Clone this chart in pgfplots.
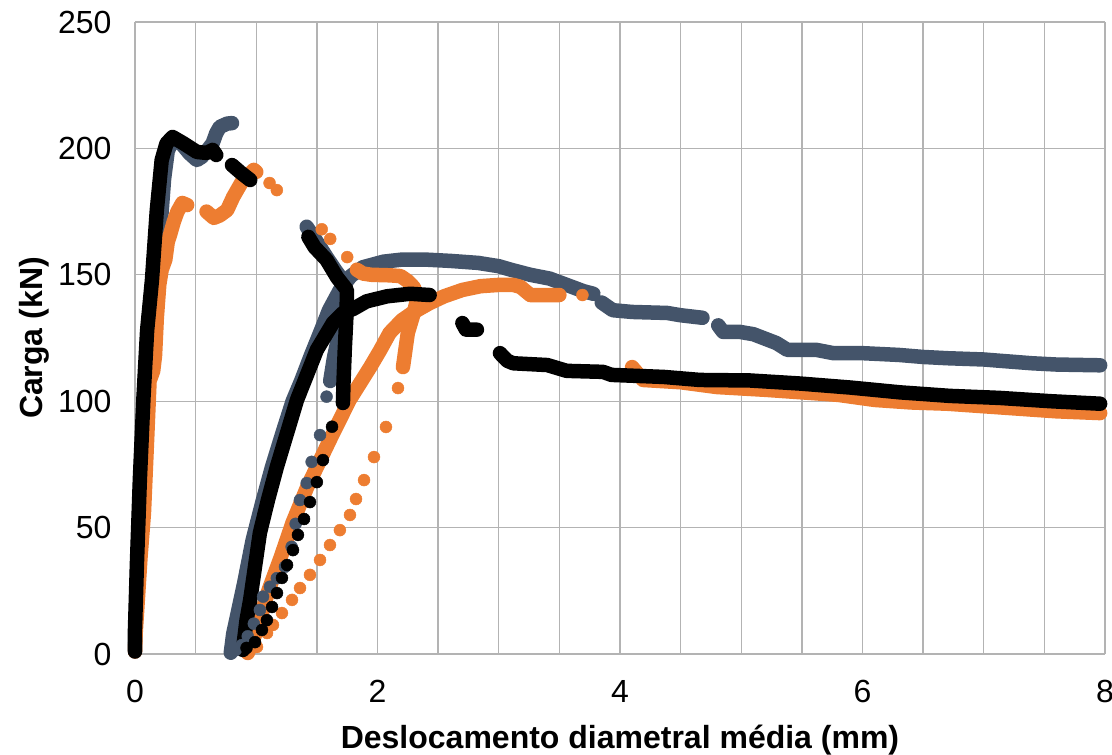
\documentclass[border=0pt]{standalone}
\usepackage{fontspec}
\setmainfont{Liberation Sans}
\usepackage{pgfplots}
\pgfplotsset{compat=1.18}
\definecolor{cblue}{HTML}{44546A}
\definecolor{corange}{HTML}{ED7D31}
\definecolor{cgrid}{HTML}{B3B3B3}
\pgfplotsset{
  dense/.style={line width=14.5pt, line cap=round, line join=round, no marks},
  sparse/.style={only marks, mark=*, mark size=6pt},
}
\begin{document}
\begin{tikzpicture}
\begin{axis}[
  name=ax,
  scale only axis, width=970pt, height=632pt,
  xmin=0, xmax=8, ymin=0, ymax=250,
  xtick={0,2,...,8}, minor xtick={0.5,1,...,7.5}, ytick={0,50,...,250},
  grid=both,
  grid style={cgrid, line width=1.3pt},
  major grid style={cgrid, line width=1.3pt},
  minor grid style={cgrid, line width=1.3pt},
  axis line style={draw=none},
  major tick length=0pt, minor tick length=0pt,
  tick style={draw=none},
  ticklabel style={font=\fontsize{32}{38}\selectfont},
  /pgf/number format/assume math mode=true,
  xticklabel style={anchor=base, yshift=-48pt},
  yticklabel style={anchor=east, xshift=-20pt},
  clip=false,
  xlabel={Deslocamento diametral média (mm)},
  ylabel={Carga (kN)},
  xlabel style={font=\bfseries\fontsize{32}{38}\selectfont, at={([yshift=-94pt]axis description cs:0.5,0)}, anchor=base},
  ylabel style={font=\bfseries\fontsize{32}{38}\selectfont, at={([xshift=-92pt]axis description cs:0,0.5)}, anchor=base, rotate=0},
]
% ---------------- Blue series ----------------
\addplot[dense, cblue] coordinates {(0,1) (0.005,10) (0.02,36) (0.045,69) (0.075,101.6) (0.105,128) (0.145,148) (0.19,162) (0.215,172) (0.24,188) (0.27,199) (0.31,203) (0.38,202) (0.45,198) (0.51,195.4) (0.55,196.6) (0.60,199.5) (0.64,202) (0.67,206) (0.70,208.5) (0.76,209.8) (0.80,210)};
\addplot[dense, cblue] coordinates {(1.416,169) (1.50,163) (1.58,157) (1.65,152) (1.71,148) (1.74,143) (1.72,135) (1.68,126) (1.64,117) (1.61,108)};
\addplot[sparse, cblue] coordinates {(1.58,101.8) (1.526,86.6) (1.457,76) (1.416,67.6) (1.36,60.9) (1.325,51.5) (1.292,42.4) (1.237,34.5) (1.17,30) (1.113,26.6) (1.056,22.7) (1.03,17.4) (0.98,12) (0.93,7) (0.88,3.5) (0.83,1.5)};
\addplot[dense, cblue] coordinates {(0.79,0.5) (0.81,8) (0.84,14.6) (0.90,28) (0.97,45) (1.05,60) (1.13,74) (1.22,88) (1.30,100) (1.37,108) (1.45,118) (1.526,127) (1.60,136) (1.69,144) (1.78,149.5) (1.88,153) (2.05,155.2) (2.2,156) (2.4,156) (2.6,155.5) (2.83,154.7) (3.0,153.4) (3.1,152) (3.26,150) (3.42,148.5) (3.56,146) (3.70,143.5) (3.78,142.5)};
\addplot[dense, cblue] coordinates {(3.85,139) (3.94,136) (4.1,135.3) (4.39,134.9) (4.5,134) (4.68,133)};
\addplot[dense, cblue] coordinates {(4.81,130) (4.85,127.4) (4.99,127.4) (5.1,126.5) (5.29,123) (5.38,120.3) (5.62,120.3) (5.76,119) (6.0,119) (6.3,118.3) (6.5,117.5) (6.7,117) (7.0,116.5) (7.13,116) (7.4,115) (7.6,114.5) (7.96,114.2)};
% ---------------- Orange series ----------------
\addplot[dense, corange] coordinates {(0,1) (0.005,8) (0.016,16) (0.045,38) (0.074,56) (0.10,85) (0.12,108) (0.15,112) (0.165,118) (0.18,133) (0.20,146) (0.22,152) (0.25,156) (0.27,163) (0.29,166) (0.32,171) (0.35,175) (0.39,178.4) (0.43,177.6)};
\addplot[dense, corange] coordinates {(0.59,175) (0.65,172.5) (0.70,173.5) (0.76,175.6) (0.81,180.8) (0.89,187.5) (0.98,191.5) (1.0,190.7)};
\addplot[sparse, corange] coordinates {(1.11,186.3) (1.17,183.5) (1.54,168) (1.61,164.2) (1.75,157)};
\addplot[dense, corange] coordinates {(1.83,152) (1.88,150.5) (1.95,150) (2.1,149.8) (2.19,149.5) (2.25,147.5) (2.30,145) (2.33,141) (2.30,135) (2.25,127) (2.21,113.5)};
\addplot[sparse, corange] coordinates {(2.169,105.2) (2.07,89.8) (1.971,77.9) (1.889,68.8) (1.823,61.3) (1.773,55) (1.69,49) (1.608,43.1) (1.526,37.2) (1.443,31.3) (1.361,26.1) (1.295,21.4) (1.212,16.2) (1.138,11.5) (1.089,8.3) (1.006,2.8)};
\addplot[dense, corange] coordinates {(0.93,0.4) (0.97,5) (1.0,9) (1.1,25) (1.2,38) (1.3,52) (1.42,66) (1.52,76) (1.61,85) (1.77,100.5) (1.94,113.5) (2.02,120) (2.10,127) (2.2,132) (2.29,135) (2.43,138.8) (2.55,141.5) (2.7,144) (2.85,145.5) (3.0,146) (3.12,146) (3.18,145.2) (3.26,142) (3.5,142)};
\addplot[sparse, corange] coordinates {(3.69,142)};
\addplot[dense, corange] coordinates {(4.1,113.5) (4.19,108.4) (4.5,107.5) (4.8,105.6) (5.2,104.5) (5.5,103.5) (5.8,102.5) (6.1,100.5) (6.4,99.5) (6.7,99) (7.0,98) (7.3,97) (7.6,96) (7.96,95.3)};
% ---------------- Black series ----------------
\addplot[dense, black] coordinates {(0,1) (0.0,10) (0.016,36) (0.04,69) (0.07,101.6) (0.10,128) (0.14,148) (0.18,175.6) (0.22,195.4) (0.26,202) (0.31,204.5) (0.40,202) (0.51,198.6) (0.594,198.2) (0.64,199.4) (0.67,197.4)};
\addplot[dense, black] coordinates {(0.80,193.4) (0.87,190.5) (0.95,187.5)};
\addplot[dense, black] coordinates {(1.43,165) (1.48,161) (1.58,155.9) (1.666,149) (1.748,144) (1.745,135) (1.73,120.3) (1.72,108) (1.715,99.3)};
\addplot[sparse, black] coordinates {(1.625,89.9) (1.55,76.7) (1.50,68) (1.443,60.1) (1.394,53.4) (1.344,47.1) (1.303,41.1) (1.254,35.2) (1.212,30.1) (1.171,24.1) (1.130,18.6) (1.088,13.4) (1.047,9.5) (0.99,4.7) (0.92,2.4)};
\addplot[dense, black] coordinates {(0.89,1.6) (0.92,13.4) (0.95,21.4) (1.03,47.9) (1.097,61) (1.17,74) (1.336,100.5) (1.50,120.3) (1.633,131) (1.715,134.9) (1.80,136.5) (1.91,139.5) (2.08,141.5) (2.27,142.5) (2.43,142)};
\addplot[dense, black] coordinates {(2.70,130.9) (2.73,128.3) (2.82,128.3)};
\addplot[dense, black] coordinates {(3.01,119) (3.07,116) (3.12,115) (3.40,114.3) (3.56,112) (3.86,111.6) (3.93,110.4) (4.36,109.6) (4.66,108.4) (5.07,108.2) (5.48,107) (5.9,105.4) (6.31,103.5) (6.72,102.1) (7.13,101.3) (7.55,100) (7.96,99)};
\end{axis}
\pgfresetboundingbox
\path ([shift={(-135pt,-100pt)}]ax.south west) rectangle ([shift={(7pt,22pt)}]ax.north east);
\end{tikzpicture}
\end{document}
